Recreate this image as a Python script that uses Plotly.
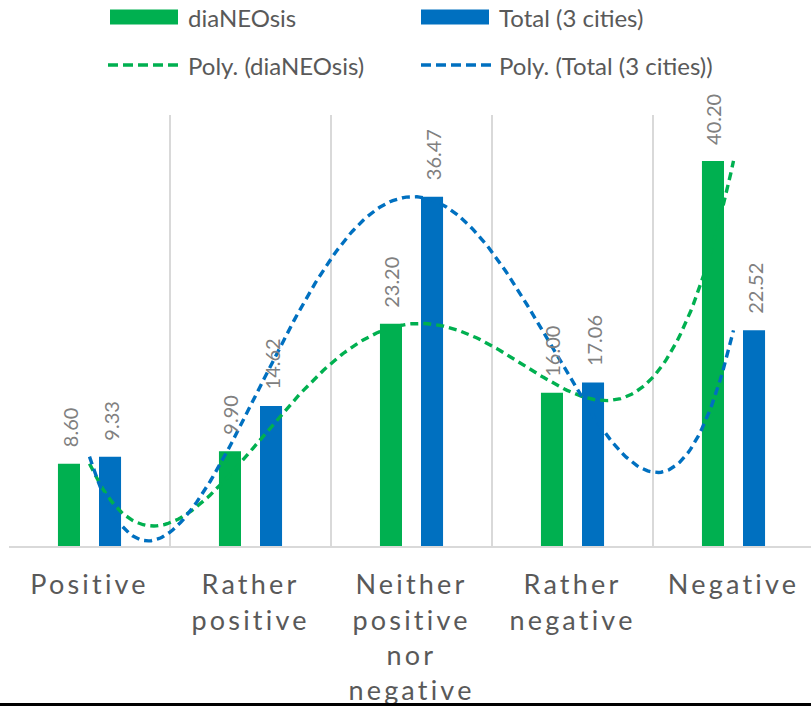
import numpy as np
import plotly.graph_objects as go

# ---- data ----
categories = ["Positive", "Rather<br>positive", "Neither<br>positive<br>nor<br>negative",
              "Rather<br>negative", "Negative"]
dianeosis = [8.60, 9.90, 23.20, 16.00, 40.20]
total_3_cities = [9.33, 14.62, 36.47, 17.06, 22.52]
series_names = ["diaNEOsis", "Total (3 cities)"]
trend_names = ["Poly. (diaNEOsis)", "Poly. (Total (3 cities))"]

# ---- style ----
GREEN = "#00B050"
BLUE = "#0070C0"
TXT = "#595959"
LBL = "#808080"
GRID = "#d9d9d9"
FONT = "Lato"

W, H = 811, 706
ML, MR, MT, MB = 9, 0, 115, 160
PW, PH = W - ML - MR, H - MT - MB
CAT_PX = 161.0

x_idx = np.arange(len(categories))

fig = go.Figure()
for name, vals, col in [(series_names[0], dianeosis, GREEN), (series_names[1], total_3_cities, BLUE)]:
    fig.add_trace(go.Bar(x=x_idx, y=vals, name=name, marker=dict(color=col, line=dict(width=0)),
                         showlegend=False))

# polynomial trendlines (order 4, like Excel)
xs = np.linspace(0, len(categories) - 1, 241)
for name, vals, col in [(trend_names[0], dianeosis, GREEN), (trend_names[1], total_3_cities, BLUE)]:
    coef = np.polyfit(x_idx, vals, 4)
    fig.add_trace(go.Scatter(x=xs, y=np.polyval(coef, xs), mode="lines", name=name,
                             line=dict(color=col, width=3.4, dash="8px,5px"), showlegend=False,
                             hoverinfo="skip"))

# value labels
annotations = []
for vals, xshift in [(dianeosis, -20), (total_3_cities, 21.5)]:
    for i, v in enumerate(vals):
        annotations.append(dict(x=i, y=v, text=f"{v:.2f}", textangle=-90, showarrow=False,
                                xanchor="center", yanchor="bottom", xshift=xshift, yshift=14,
                                font=dict(family=FONT, size=20, color=LBL)))

# manual legend (pixel constants -> paper coords)
def px(xp):
    return (xp - ML) / PW

def py(yp):
    return (MT + PH - yp) / PH

shapes = []
legend_items = [
    (110, 186, 17, series_names[0], GREEN, "bar"),
    (421, 497, 17, series_names[1], BLUE, "bar"),
    (108, 186, 65, trend_names[0], GREEN, "line"),
    (421, 497, 65, trend_names[1], BLUE, "line"),
]
for sx, tx, cy, label, col, kind in legend_items:
    if kind == "bar":
        shapes.append(dict(type="rect", xref="paper", yref="paper", x0=px(sx), x1=px(sx + 68),
                           y0=py(cy - 7.5), y1=py(cy + 7.5), fillcolor=col, line=dict(width=0)))
    else:
        shapes.append(dict(type="line", xref="paper", yref="paper", x0=px(sx), x1=px(sx + 70),
                           y0=py(cy), y1=py(cy), line=dict(color=col, width=3.5, dash="10px,5px")))
    annotations.append(dict(xref="paper", yref="paper", x=px(tx), y=py(cy), text=label,
                            showarrow=False, xanchor="left", yanchor="middle",
                            font=dict(family=FONT, size=24, color=TXT)))

# bottom border line
shapes.append(dict(type="line", xref="paper", yref="paper", x0=-0.05, x1=1.05,
                   y0=py(704.5), y1=py(704.5), line=dict(color="#000000", width=3)))

fig.update_layout(
    width=W, height=H, margin=dict(l=ML, r=MR, t=MT, b=MB, pad=0),
    paper_bgcolor="white", plot_bgcolor="white",
    barmode="group", bargap=0.49, bargroupgap=0.463,
    font=dict(family=FONT, color=TXT),
    showlegend=False,
    annotations=annotations, shapes=shapes,
    xaxis=dict(range=[-0.5, -0.5 + PW / CAT_PX], tickmode="array", tickvals=list(x_idx),
               ticktext=categories, showgrid=False, ticks="", zeroline=False,
               showline=True, linecolor=GRID, linewidth=2, ticklabelstandoff=14,
               tickfont=dict(family=FONT, size=27, color=TXT),
               minor=dict(tickmode="linear", tick0=-0.5, dtick=1, showgrid=True,
                          gridcolor=GRID, gridwidth=2, ticks="")),
    yaxis=dict(range=[0, 45], showgrid=False, showticklabels=False, zeroline=False,
               showline=False, ticks=""),
)

post = ("var s=document.createElement('style');"
        "s.innerHTML='body{margin:0;}.xtick text{letter-spacing:3.2px;}';"
        "document.head.appendChild(s);")
fig.write_html("out.html", post_script=post, config={"displayModeBar": False})
